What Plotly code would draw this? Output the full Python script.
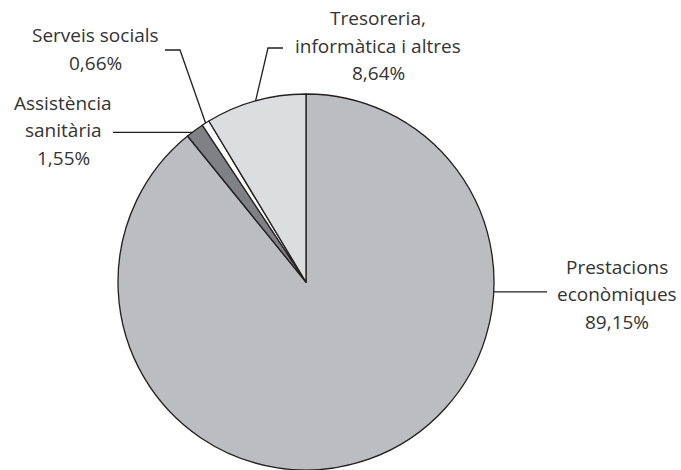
import math
import plotly.graph_objects as go

categories = ["Prestacions econòmiques", "Assistència sanitària", "Serveis socials",
              "Tresoreria, informàtica i altres"]
values = [89.15, 1.55, 0.66, 8.64]
value_labels = ["89,15%", "1,55%", "0,66%", "8,64%"]
label_lines = [["Prestacions", "econòmiques"], ["Assistència", "sanitària"],
               ["Serveis socials"], ["Tresoreria,", "informàtica i altres"]]
colors = ["#bcbdc0", "#808184", "#ffffff", "#dcdddf"]

W, H = 681, 470
CX, CY, R = 306, 282, 188
LINE = "#231f20"
TEXT = "#333333"
FONT = "Open Sans"
FS = 19
LH = 27.5

fig = go.Figure(go.Pie(
    labels=categories, values=values, sort=False, direction="clockwise",
    rotation=0, marker=dict(colors=colors, line=dict(color=LINE, width=1.3)),
    textinfo="none", hoverinfo="label+percent", showlegend=False,
    domain=dict(x=[(CX - R) / W, (CX + R) / W], y=[1 - (CY + R) / H, 1 - (CY - R) / H]),
))

def px(x):
    return x / W

def py(y):
    return 1 - y / H

# mid angles (degrees clockwise from 12 o'clock) from the data
total = sum(values)
mids = []
acc = 0
for v in values:
    mids.append((acc + v / 2) / total * 360)
    acc += v

def edge(theta):
    t = math.radians(theta)
    return CX + R * math.sin(t), CY - R * math.cos(t)

shapes = []
def poly(points):
    d = "M " + " L ".join(f"{px(x)},{py(y)}" for x, y in points)
    shapes.append(dict(type="path", xref="paper", yref="paper", path=d,
                       line=dict(color=LINE, width=1.3)))

# Prestacions: horizontal leader to the right
a0 = edge(93)
poly([a0, (547, a0[1])])
# Assistència: horizontal leader to the left
a1 = edge(mids[1] - 1)
poly([a1, (113, a1[1])])
# Serveis socials: elbow up-left
a2 = edge(mids[2])
poly([a2, (180, 50), (165, 50)])
# Tresoreria: elbow up-right
a3 = edge(mids[3])
poly([a3, (268, 48), (283, 48)])

annotations = []
def label(lines, cx, cy):
    n = len(lines)
    for i, ln in enumerate(lines):
        yy = cy + (i - (n - 1) / 2) * LH
        annotations.append(dict(x=px(cx), y=py(yy), xref="paper", yref="paper",
                                text=ln, showarrow=False, align="center",
                                xanchor="center", yanchor="middle",
                                font=dict(family=FONT, size=FS, color=TEXT)))

label(label_lines[0] + [value_labels[0]], 617, 294)
label(label_lines[1] + [value_labels[1]], 63, 130)
label(label_lines[2] + [value_labels[2]], 95, 49)
label(label_lines[3] + [value_labels[3]], 378, 46)

fig.update_layout(width=W, height=H, margin=dict(l=0, r=0, t=0, b=0),
                  paper_bgcolor="white", plot_bgcolor="white",
                  shapes=shapes, annotations=annotations)

fig.write_html("out.html", config={"displayModeBar": False},
               post_script="document.body.style.margin='0px';")
